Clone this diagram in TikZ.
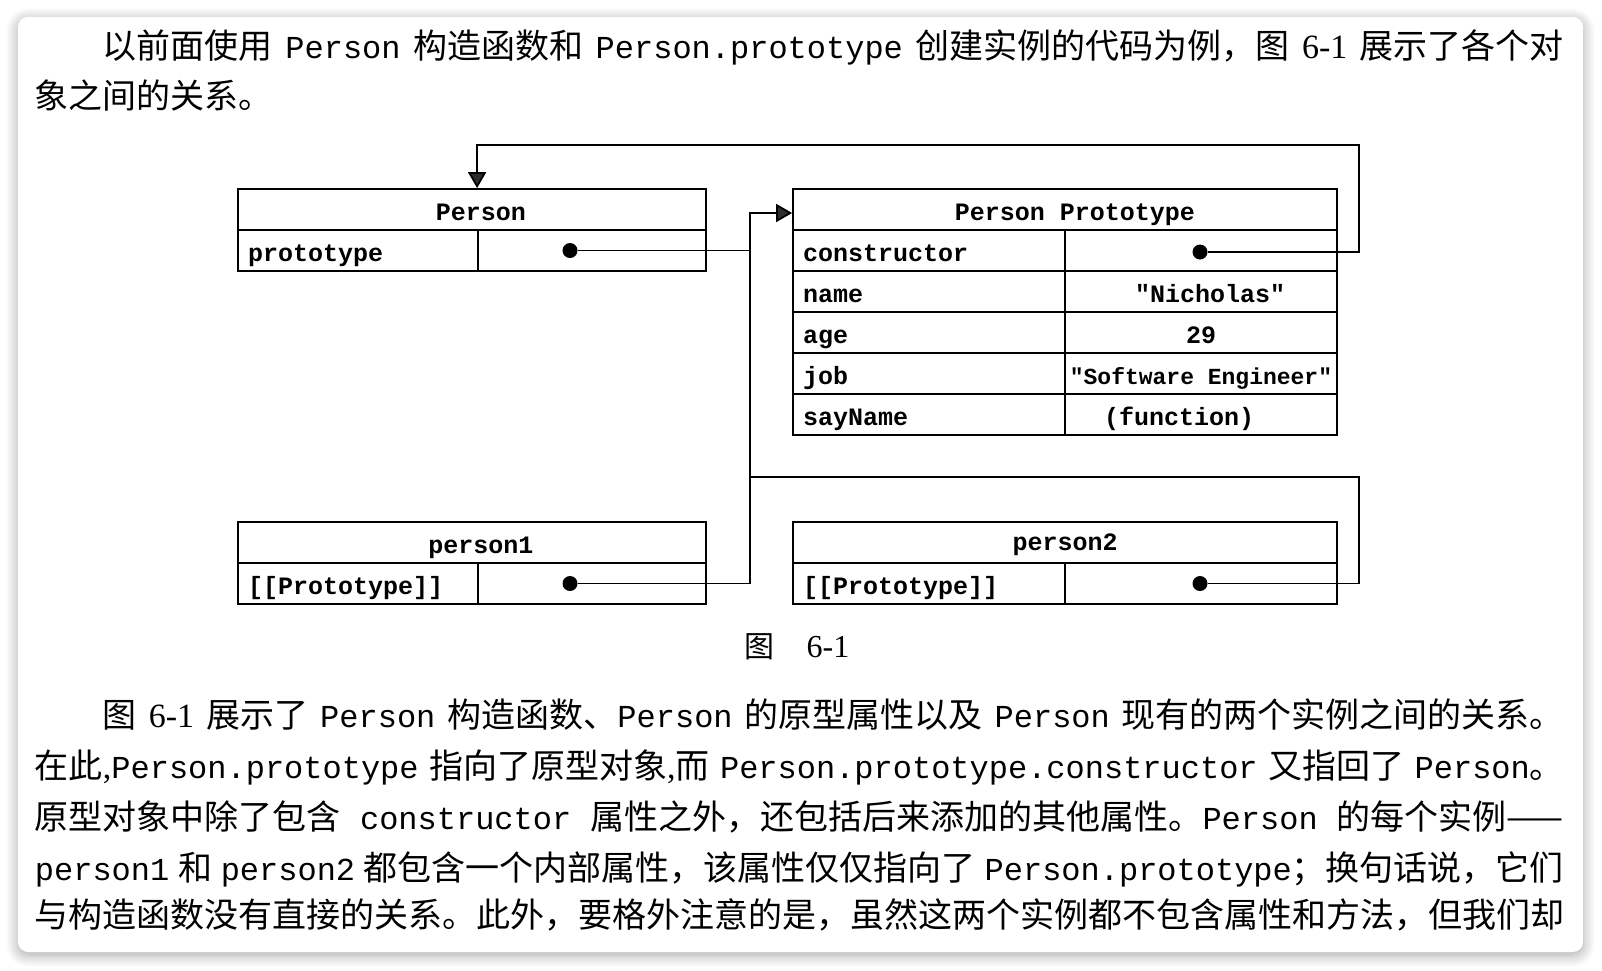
\documentclass[tikz,border=0pt]{standalone}
\usepackage{fontspec}
\setmainfont{Liberation Serif}
\setmonofont{Liberation Mono}
\newfontfamily\cjk{Noto Sans CJK SC}
\usetikzlibrary{arrows.meta,shadows.blur}
\newcommand\m[1]{{\ttfamily\fontsize{32}{40}\selectfont #1}}
\newcommand\n[1]{{\rmfamily\fontsize{34}{40}\selectfont #1}}
\newcommand\jl[2]{\hbox to #1{\spaceskip 6pt plus 60pt minus 4pt\relax #2}}

\begin{document}
\begin{tikzpicture}[x=1pt, y=-1pt, line width=1.8pt,
  txt/.style={inner sep=0, anchor=base west, font=\cjk\fontsize{34}{40}\selectfont},
  hd/.style={draw, inner sep=0, minimum height=41pt, text height=24pt, text depth=2pt, font=\ttfamily\bfseries\fontsize{25}{30}\selectfont},
  key/.style={hd, inner xsep=10pt, align=left},
  dot/.style={circle, fill, inner sep=0, minimum size=15pt},
  ptr/.style={-{Triangle[length=16pt,width=18pt]}}]
	\useasboundingbox (0,0) rectangle (1602,970);
	\fill[white, rounded corners=10pt, blur shadow={shadow xshift=0pt, shadow yshift=-3pt, shadow blur radius=12pt, shadow blur steps=14, shadow opacity=35}] (18,17) rectangle (1583,952);

	\node[txt] (t1) at (102,58) {\jl{1461pt}{以前面使用 \m{Person} 构造函数和 \m{Person.prototype} 创建实例的代码为例，图 \n{6-1} 展示了各个对}};
	\node[txt] (t2) at (34,108) {象之间的关系。};

	\node[hd, minimum width=468pt] (P) at (472,209.5) {\hspace*{18pt}Person};
	\node[key, text width=220pt] (Pk) at (358,250.5) {prototype};
	\node[hd, minimum width=228pt] (Pv) at (592,250.5) {};

	\node[hd, minimum width=544pt] (PP) at (1065,209.5) {\hspace*{20pt}Person Prototype};
	\node[key, text width=252pt] (con) at (929,250.5) {constructor};
	\node[hd, minimum width=272pt] (conv) at (1201,250.5) {};
	\node[key, text width=252pt] (nm) at (929,291.5) {name};
	\node[hd, minimum width=272pt] (nmv) at (1201,291.5) {\hspace*{18pt}"Nicholas"};
	\node[key, text width=252pt] (ag) at (929,332.5) {age};
	\node[hd, minimum width=272pt] (agv) at (1201,332.5) {29};
	\node[key, text width=252pt] (jb) at (929,373.5) {job};
	\node[hd, minimum width=272pt, font=\ttfamily\bfseries\fontsize{23}{30}\selectfont] (jbv) at (1201,373.5) {"Software Engineer"};
	\node[key, text width=252pt] (sn) at (929,414.5) {sayName};
	\node[hd, minimum width=272pt] (snv) at (1201,414.5) {\hspace{-44pt}(function)};

	\node[hd, minimum width=468pt] (p1) at (472,542.5) {\hspace*{18pt}person1};
	\node[key, text width=220pt] (p1k) at (358,583.5) {[[Prototype]]};
	\node[hd, minimum width=228pt] (p1v) at (592,583.5) {};

	\node[hd, minimum width=544pt, text height=18pt] (p2) at (1065,542.5) {person2};
	\node[key, text width=252pt] (p2k) at (929,583.5) {[[Prototype]]};
	\node[hd, minimum width=272pt] (p2v) at (1201,583.5) {};

	\node[dot] (Pd) at (570,250.5) {};
	\node[dot] (cond) at (1200,252) {};
	\node[dot] (p1d) at (570,583.5) {};
	\node[dot] (p2d) at (1200,583.5) {};

	\coordinate (sx) at (750,477);
	\coordinate (rx) at (1359,477);
	\coordinate (top) at (1359,145);

	\draw[ptr] (p1d) -- (p1d -| sx) |- ([yshift=-3.5pt]PP.west);
	\draw (Pd) -- (Pd -| sx);
	\draw (p2d) -| (rx) -- (sx);
	\draw[ptr] (cond) -| (top) -| (P.north -| Pv.west);

	\node[anchor=base, inner sep=0] (cap) at (797,657) {{\cjk\fontsize{30}{36}\selectfont 图}\hspace{32pt}{\fontsize{32}{36}\selectfont 6-1}};

	\node[txt] (b1) at (102,727) {\jl{1461pt}{图 \n{6-1} 展示了 \m{Person} 构造函数、\m{Person} 的原型属性以及 \m{Person} 现有的两个实例之间的关系。}};
	\node[txt] (b2) at (34,778) {\jl{1529pt}{在此\n{,}\m{Person.prototype} 指向了原型对象\n{,}而 \m{Person.prototype.constructor} 又指回了 \m{Person}。}};
	\node[txt] (b3) at (34,829) {\jl{1529pt}{原型对象中除了包含 \m{constructor} 属性之外，还包括后来添加的其他属性。\m{Person} 的每个实例——}};
	\node[txt] (b4) at (34,880) {\jl{1529pt}{\m{person1} 和 \m{person2} 都包含一个内部属性，该属性仅仅指向了 \m{Person.prototype}；换句话说，它们}};
	\node[txt] (b5) at (34,927) {\jl{1529pt}{与构造函数没有直接的关系。此外，要格外注意的是，虽然这两个实例都不包含属性和方法，但我们却}};
\end{tikzpicture}
\end{document}
